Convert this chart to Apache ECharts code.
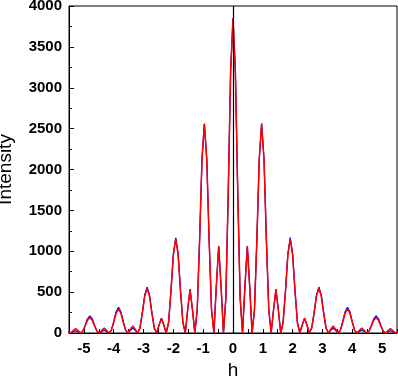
<!DOCTYPE html>
<html>
<head>
<meta charset="utf-8">
<script src="https://cdn.jsdelivr.net/npm/echarts@6/dist/echarts.min.js"></script>
<style>html,body{margin:0;padding:0;background:#fff}#c{width:398px;height:378px}</style>
</head>
<body>
<div id="c"></div>
<script>
const hValues = [-5.52,-5.44,-5.36,-5.28,-5.2,-5.12,-5.04,-4.96,-4.88,-4.8,-4.72,-4.64,-4.56,-4.48,-4.4,-4.32,-4.24,-4.16,-4.08,-4,-3.92,-3.84,-3.76,-3.68,-3.6,-3.52,-3.44,-3.36,-3.28,-3.2,-3.12,-3.04,-2.96,-2.88,-2.8,-2.72,-2.64,-2.56,-2.48,-2.4,-2.32,-2.24,-2.16,-2.08,-2,-1.92,-1.84,-1.76,-1.68,-1.6,-1.52,-1.44,-1.36,-1.28,-1.2,-1.12,-1.04,-0.96,-0.88,-0.8,-0.72,-0.64,-0.56,-0.48,-0.4,-0.32,-0.24,-0.16,-0.08,
0,
0.08,0.16,0.24,0.32,0.4,0.48,0.56,0.64,0.72,0.8,0.88,0.96,1.04,1.12,1.2,1.28,1.36,1.44,1.52,1.6,1.68,1.76,1.84,1.92,2,2.08,2.16,2.24,2.32,2.4,2.48,2.56,2.64,2.72,2.8,2.88,2.96,3.04,3.12,3.2,3.28,3.36,3.44,3.52,3.6,3.68,3.76,3.84,3.92,4,4.08,4.16,4.24,4.32,4.4,4.48,4.56,4.64,4.72,4.8,4.88,4.96,5.04,5.12,5.2,5.28,5.36,5.44,5.52];

const blueIntensity = [15,0,15,28,15,0,23,93,174,210,174,93,23,0,19,35,19,0,35,140,261,315,261,140,35,0,32,60,32,0,62,249,465,560,465,249,62,0,98,182,98,0,129,517,967,1165,967,517,129,0,287,535,287,0,284,1137,2125,2560,2125,1137,284,0,568,1060,568,0,427,1709,3196,
3850,
3196,1709,427,0,568,1060,568,0,284,1137,2125,2560,2125,1137,284,0,287,535,287,0,129,517,967,1165,967,517,129,0,98,182,98,0,62,249,465,560,465,249,62,0,32,60,32,0,35,140,261,315,261,140,35,0,19,35,19,0,23,93,174,210,174,93,23,0,15,28,15,0,15];

const redIntensity = [15,0,29,55,29,0,21,83,156,188,156,83,21,0,33,62,33,0,32,130,242,292,242,130,32,0,46,85,46,0,60,242,452,545,452,242,60,0,96,180,96,0,128,511,955,1150,955,511,128,0,284,530,284,0,284,1137,2125,2560,2125,1137,284,0,568,1060,568,0,427,1709,3196,
3850,
3196,1709,427,0,568,1060,568,0,284,1137,2125,2560,2125,1137,284,0,284,530,284,0,128,511,955,1150,955,511,128,0,96,180,96,0,60,242,452,545,452,242,60,0,46,85,46,0,32,130,242,292,242,130,32,0,33,62,33,0,21,83,156,188,156,83,21,0,29,55,29,0,15];

const xTickLabels = [-5,-4,-3,-2,-1,0,1,2,3,4,5];
const xTickMarks = [-5.5,-5,-4.5,-4,-3.5,-3,-2.5,-2,-1.5,-1,-0.5,0,0.5,1,1.5,2,2.5,3,3.5,4,4.5,5,5.5];
const yTickLabels = [0,500,1000,1500,2000,2500,3000,3500,4000];

function pairs(xs, ys){ return xs.map((x,i)=>[x, ys[i]]); }

const chart = echarts.init(document.getElementById('c'), null, {renderer:'canvas'});
const font = 'Liberation Sans, Arial, sans-serif';
chart.setOption({
  animation:false,
  backgroundColor:'#fff',
  grid:{left:69,right:1,top:6,bottom:45,show:true,borderColor:'#000',borderWidth:1,backgroundColor:'transparent',outerBoundsMode:'none',containLabel:false},
  xAxis:{
    type:'value',min:-5.5,max:5.5,
    name:'h',nameLocation:'middle',nameGap:19,
    nameTextStyle:{fontFamily:font,fontSize:19,color:'#000'},
    axisLine:{onZero:false,lineStyle:{color:'#000',width:1}},
    axisTick:{inside:true,length:4,lineStyle:{color:'#000'},customValues:xTickMarks},
    minorTick:{show:false},
    axisLabel:{margin:8,fontFamily:font,fontWeight:'bold',fontSize:15,color:'#000',customValues:xTickLabels},
    splitLine:{show:false}
  },
  yAxis:{
    type:'value',min:0,max:4000,interval:500,
    name:'Intensity',nameLocation:'middle',nameGap:54,
    nameTextStyle:{fontFamily:font,fontSize:19,color:'#000'},
    axisLine:{show:true,onZero:false,lineStyle:{color:'#000',width:1}},
    axisTick:{inside:true,length:5,lineStyle:{color:'#000'}},
    minorTick:{show:true,splitNumber:2,length:3,lineStyle:{color:'#000'}},
    axisLabel:{margin:7,fontFamily:font,fontWeight:'bold',fontSize:15,color:'#000',formatter:function(v){return String(v);}},
    splitLine:{show:false}
  },
  series:[
    {type:'line',data:pairs(hValues,blueIntensity),showSymbol:false,z:1,
     lineStyle:{color:'#000',width:0.8,type:'dotted'},
     markLine:{silent:true,symbol:['none','none'],label:{show:false},
       lineStyle:{color:'#000',width:1.2,type:'solid'},data:[{xAxis:0}]}},
    {type:'line',data:pairs(hValues,blueIntensity),showSymbol:false,z:2,
     lineStyle:{color:'#0000ff',width:1.2}},
    {type:'line',data:pairs(hValues,redIntensity),showSymbol:false,z:3,
     lineStyle:{color:'#ff0000',width:1.5}}
  ]
});
</script>
</body>
</html>
